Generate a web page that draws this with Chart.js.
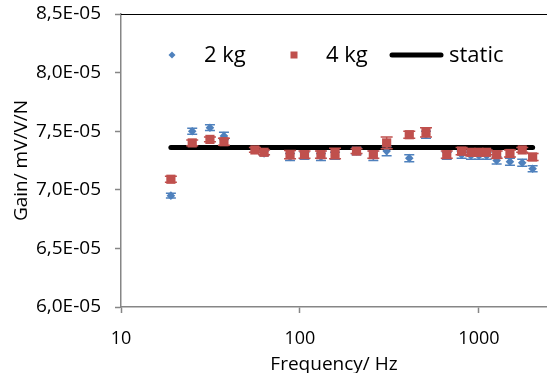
<!DOCTYPE html>
<html><head><meta charset="utf-8">
<script src="https://cdn.jsdelivr.net/npm/chart.js@4/dist/chart.umd.min.js"></script>
<style>html,body{margin:0;padding:0;background:#fff;overflow:hidden}#wrap{width:547px;height:373px;position:relative}</style>
</head><body><div id="wrap"><canvas id="c" width="547" height="373"></canvas></div>
<script>
// ---- data ----
const frequencies = [19, 25, 31.4, 37.6, 56, 63, 88, 106, 131, 157, 207, 257, 305, 408, 506, 661, 800, 902, 1000, 1104, 1256, 1490, 1745, 1995];
const gain2kg = [6.95e-5, 7.50e-5, 7.53e-5, 7.46e-5, 7.34e-5, 7.31e-5, 7.28e-5, 7.29e-5, 7.28e-5, 7.29e-5, 7.33e-5, 7.29e-5, 7.33e-5, 7.27e-5, 7.47e-5, 7.29e-5, 7.30e-5, 7.29e-5, 7.29e-5, 7.29e-5, 7.25e-5, 7.24e-5, 7.23e-5, 7.18e-5];
const gain4kg = [7.09e-5, 7.40e-5, 7.43e-5, 7.41e-5, 7.34e-5, 7.32e-5, 7.30e-5, 7.30e-5, 7.30e-5, 7.31e-5, 7.33e-5, 7.30e-5, 7.40e-5, 7.47e-5, 7.49e-5, 7.30e-5, 7.33e-5, 7.32e-5, 7.32e-5, 7.32e-5, 7.30e-5, 7.31e-5, 7.34e-5, 7.28e-5];
const err2kg = [0.02e-5, 0.025e-5, 0.025e-5, 0.03e-5, 0.02e-5, 0.02e-5, 0.03e-5, 0.03e-5, 0.03e-5, 0.03e-5, 0.03e-5, 0.04e-5, 0.04e-5, 0.03e-5, 0.03e-5, 0.03e-5, 0.03e-5, 0.03e-5, 0.03e-5, 0.03e-5, 0.03e-5, 0.03e-5, 0.03e-5, 0.025e-5];
const err4kg = [0.025e-5, 0.025e-5, 0.02e-5, 0.03e-5, 0.02e-5, 0.02e-5, 0.035e-5, 0.03e-5, 0.03e-5, 0.045e-5, 0.02e-5, 0.03e-5, 0.05e-5, 0.03e-5, 0.04e-5, 0.03e-5, 0.03e-5, 0.03e-5, 0.03e-5, 0.02e-5, 0.03e-5, 0.03e-5, 0.02e-5, 0.03e-5];
const staticGain = 7.36e-5;
const xTickValues = [10, 100, 1000];
const yTickValues = [6.0e-5, 6.5e-5, 7.0e-5, 7.5e-5, 8.0e-5, 8.5e-5];
const seriesNames = ['2 kg', '4 kg', 'static'];

const BLUE = '#4F81BD', RED = '#C0504D', AXIS = '#868686', TXT = '#000';
const FONT = 'Open Sans';

function fmtY(v){ return (v/1e-5).toFixed(1).replace('.', ',') + 'E-05'; }

const errPlugin = {
  id: 'errbars',
  beforeDatasetDraw(chart, args){
    const ds = chart.data.datasets[args.index];
    if (!ds.errors) return;
    const xs = chart.scales.x, ys = chart.scales.y, ctx = chart.ctx;
    ctx.save();
    ctx.strokeStyle = ds.errColor; ctx.lineWidth = 1.5;
    ds.data.forEach((p, i) => {
      const px = xs.getPixelForValue(p.x);
      const y1 = ys.getPixelForValue(p.y + ds.errors[i]);
      const y2 = ys.getPixelForValue(p.y - ds.errors[i]);
      const hw = ds.capHalf;
      ctx.beginPath();
      ctx.moveTo(px, y1); ctx.lineTo(px, y2);
      ctx.moveTo(px - hw, y1); ctx.lineTo(px + hw, y1);
      ctx.moveTo(px - hw, y2); ctx.lineTo(px + hw, y2);
      ctx.stroke();
    });
    ctx.restore();
  }
};

const frame = {
  id: 'frame',
  afterDraw(chart){
    const a = chart.chartArea, ctx = chart.ctx;
    ctx.save();
    ctx.strokeStyle = '#000'; ctx.lineWidth = 1.2;
    ctx.beginPath(); ctx.moveTo(a.left, a.top + 0.5); ctx.lineTo(a.right, a.top + 0.5); ctx.stroke();
    // legend
    const ly = 55;
    ctx.font = '22px "' + FONT + '"';
    ctx.fillStyle = TXT; ctx.textBaseline = 'middle'; ctx.textAlign = 'left';
    ctx.fillStyle = BLUE;
    ctx.beginPath(); ctx.moveTo(172, ly - 3.5); ctx.lineTo(175.5, ly); ctx.lineTo(172, ly + 3.5); ctx.lineTo(168.5, ly); ctx.closePath(); ctx.fill();
    ctx.fillStyle = TXT; ctx.fillText(seriesNames[0], 204, ly + 1);
    ctx.fillStyle = RED; ctx.fillRect(290.5, ly - 3.5, 7, 7);
    ctx.fillStyle = TXT; ctx.fillText(seriesNames[1], 326, ly + 1);
    ctx.strokeStyle = '#000'; ctx.lineWidth = 5; ctx.lineCap = 'round';
    ctx.beginPath(); ctx.moveTo(392, ly); ctx.lineTo(441, ly); ctx.stroke();
    ctx.fillText(seriesNames[2], 449, ly + 1);
    ctx.restore();
  }
};

const tickFont = {family: FONT, size: 18};
new Chart(document.getElementById('c'), {
  type: 'scatter',
  data: {
    datasets: [
      { label: seriesNames[2], type: 'line', order: 3,
        data: [{x: frequencies[0], y: staticGain}, {x: frequencies[frequencies.length-1], y: staticGain}],
        borderColor: '#000', borderWidth: 5, borderCapStyle: 'round', pointRadius: 0, fill: false },
      { label: seriesNames[0], order: 2,
        data: frequencies.map((f, i) => ({x: f, y: gain2kg[i]})),
        errors: err2kg, errColor: BLUE, capHalf: 5,
        pointStyle: 'rectRot', pointRadius: 4.3, backgroundColor: BLUE, borderColor: BLUE, borderWidth: 0 },
      { label: seriesNames[1], order: 1,
        data: frequencies.map((f, i) => ({x: f, y: gain4kg[i]})),
        errors: err4kg, errColor: RED, capHalf: 6,
        pointStyle: 'rect', pointRadius: 6.5, backgroundColor: RED, borderColor: RED, borderWidth: 0 }
    ]
  },
  options: {
    responsive: false, animation: false, devicePixelRatio: 1,
    layout: { autoPadding: false, padding: { top: 14, right: 0, bottom: 0, left: 0 } },
    plugins: { legend: { display: false }, tooltip: { enabled: false } },
    scales: {
      x: {
        type: 'logarithmic', min: 10, max: 2400,
        afterBuildTicks(s){ s.ticks = xTickValues.map(v => ({value: v})); },
        afterFit(s){ s.height = 66; s.paddingRight = 0; s.paddingLeft = 0; s.paddingTop = 0; s.paddingBottom = 0; },
        ticks: { autoSkip: false, maxRotation: 0, color: TXT, font: tickFont, padding: 15,
                 callback: v => String(v) },
        grid: { drawOnChartArea: false, tickLength: 6, tickColor: AXIS, tickWidth: 1.5 },
        border: { color: AXIS, width: 1.5 },
        title: { display: true, text: 'Frequency/ Hz', color: TXT, font: {family: FONT, size: 19}, padding: {top: 0, bottom: -3} }
      },
      y: {
        type: 'linear', min: 6e-5, max: 8.5e-5,
        afterBuildTicks(s){ s.ticks = yTickValues.map(v => ({value: v})); },
        afterFit(s){ s.width = 121; s.paddingTop = 0; s.paddingBottom = 0; s.paddingLeft = 0; s.paddingRight = 0; },
        ticks: { color: TXT, font: {family: FONT, size: 19}, padding: 14, callback: v => fmtY(v) },
        grid: { drawOnChartArea: false, tickLength: 6, tickColor: AXIS, tickWidth: 1.5 },
        border: { color: AXIS, width: 1.5 },
        title: { display: true, text: 'Gain/ mV/V/N', color: TXT, font: {family: FONT, size: 19}, padding: {top: 10, bottom: 0} }
      }
    }
  },
  plugins: [errPlugin, frame]
});
</script></body></html>
